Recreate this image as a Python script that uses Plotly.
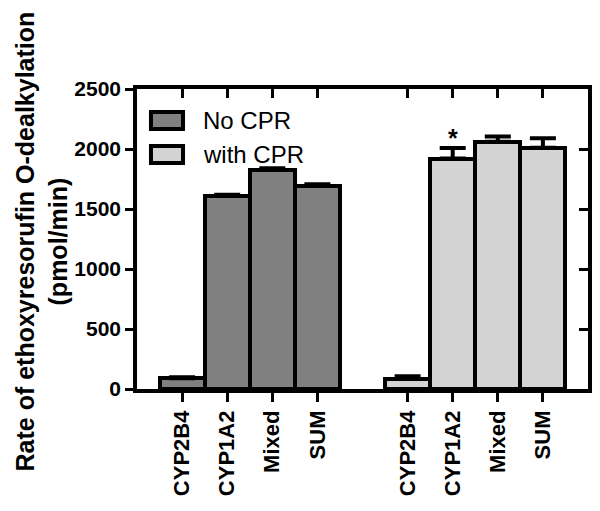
import plotly.graph_objects as go

categories = ["CYP2B4", "CYP1A2", "Mixed", "SUM"]
groups = ["No CPR", "with CPR"]
no_cpr = [90, 1610, 1825, 1695]
no_cpr_err = [8, 8, 15, 12]
with_cpr = [85, 1920, 2060, 2010]
with_cpr_err = [22, 88, 45, 80]
y_ticks = [0, 500, 1000, 1500, 2000, 2500]
colors = ["#808080", "#d3d3d3"]

n = len(categories)
pos = [[i + g * (n + 1) for i in range(n)] for g in range(2)]
vals = [no_cpr, with_cpr]
errs = [no_cpr_err, with_cpr_err]

fig = go.Figure()
for g in range(2):
    fig.add_trace(go.Bar(
        x=pos[g], y=vals[g], width=1, name=groups[g],
        marker=dict(color=colors[g], line=dict(color="black", width=4)),
        error_y=dict(type="data", array=errs[g], arrayminus=[0] * n, symmetric=False,
                     color="black", thickness=4, width=13),
        showlegend=False,
    ))

font_fam = "Liberation Sans, Arial, sans-serif"
tickvals = pos[0] + pos[1]
ticktext = categories + categories

fig.update_layout(
    width=592, height=503,
    margin=dict(l=129, r=12, t=81, b=122),
    plot_bgcolor="white", paper_bgcolor="white",
    bargap=0,
    font=dict(family=font_fam, color="black"),
    xaxis=dict(range=[-1, 9], tickvals=tickvals, ticktext=ticktext, tickangle=-90,
               ticks="outside", ticklen=9, tickwidth=3, tickcolor="black",
               showline=True, linewidth=3.5, linecolor="black", showgrid=False, zeroline=False,
               tickfont=dict(size=22, family=font_fam, weight="bold", color="black")),
    yaxis=dict(range=[0, 2500], tickvals=y_ticks, ticks="outside", ticklen=8, tickwidth=3,
               tickcolor="black", showline=True, linewidth=3.5, linecolor="black",
               showgrid=False, zeroline=False,
               tickfont=dict(size=21, family=font_fam, weight="bold", color="black")),
    xaxis2=dict(range=[-1, 9], tickvals=tickvals, overlaying="x", side="top",
                ticks="inside", ticklen=9, tickwidth=3, tickcolor="black",
                showline=True, linewidth=3.5, linecolor="black", showticklabels=False,
                showgrid=False, zeroline=False),
    yaxis2=dict(range=[0, 2500], tickvals=y_ticks, overlaying="y", side="right",
                ticks="inside", ticklen=9, tickwidth=3, tickcolor="black",
                showline=True, linewidth=3.5, linecolor="black", showticklabels=False,
                showgrid=False, zeroline=False),
)
# invisible trace to activate the mirror axes
fig.add_trace(go.Scatter(x=[None], y=[None], xaxis="x2", yaxis="y2", showlegend=False, hoverinfo="skip"))

# y-axis title
fig.add_annotation(
    text="<b>Rate of ethoxyresorufin O-dealkylation</b><br><b>(pmol/min)</b>",
    xref="paper", yref="paper", x=-0.212, y=0.493, textangle=-90,
    xanchor="center", yanchor="middle", showarrow=False,
    font=dict(size=25, family=font_fam, color="black"),
)

# significance marker
fig.add_annotation(text="<b>*</b>", x=pos[1][1], y=2090, xref="x", yref="y",
                   showarrow=False, yanchor="middle",
                   font=dict(size=25, family=font_fam, color="black"))

# legend (drawn manually)
leg_y = [(0.867, 0.923), (0.753, 0.81)]
for g in range(2):
    y0, y1 = leg_y[g]
    fig.add_shape(type="rect", xref="paper", yref="paper", x0=0.031, x1=0.102, y0=y0, y1=y1,
                  fillcolor=colors[g], line=dict(color="black", width=4))
    fig.add_annotation(text=groups[g], xref="paper", yref="paper", x=0.142, y=(y0 + y1) / 2,
                       xanchor="left", yanchor="middle", showarrow=False,
                       font=dict(size=24, family=font_fam, color="black"))

fig.write_html("out.html")
